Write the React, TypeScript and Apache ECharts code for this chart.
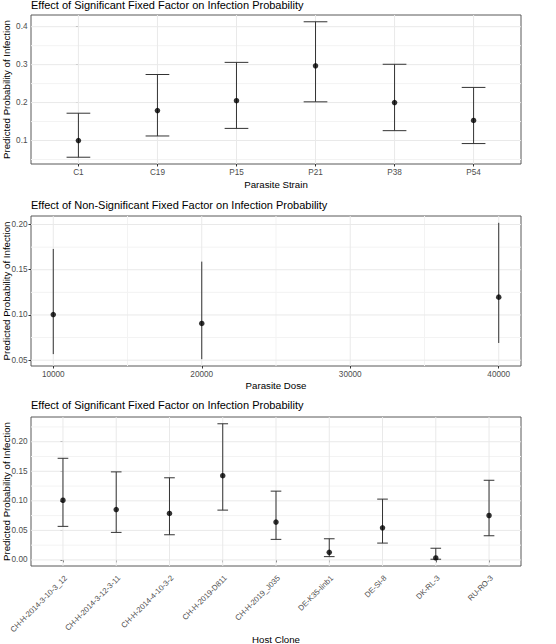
import React, { useEffect, useRef } from "react";
import * as echarts from "echarts";

// ---------- Panel 1: Parasite Strain ----------
const strainCategories = ["C1", "C19", "P15", "P21", "P38", "P54"];
const strainFit = [0.1, 0.179, 0.205, 0.297, 0.2, 0.153];
const strainLower = [0.056, 0.112, 0.132, 0.202, 0.126, 0.092];
const strainUpper = [0.172, 0.274, 0.306, 0.413, 0.301, 0.24];
const strainYTicks = [0.1, 0.2, 0.3, 0.4];
const strainYMinor = [0.05, 0.15, 0.25, 0.35];

// ---------- Panel 2: Parasite Dose ----------
const doseValues = [10000, 20000, 40000];
const doseFit = [0.1005, 0.0906, 0.1197];
const doseLower = [0.0567, 0.0511, 0.069];
const doseUpper = [0.173, 0.159, 0.2019];
const doseXTicks = [10000, 20000, 30000, 40000];
const doseXMinor = [15000, 25000, 35000];
const doseYTicks = [0.05, 0.1, 0.15, 0.2];
const doseYMinor = [0.075, 0.125, 0.175];

// ---------- Panel 3: Host Clone ----------
const cloneCategories = [
  "CH-H-2014-3-10-3_12",
  "CH-H-2014-3-12-3-11",
  "CH-H-2014-4-10-3-2",
  "CH-H-2019-D811",
  "CH-H-2019_J035",
  "DE-K35-Iinb1",
  "DE-SI-8",
  "DK-RL-3",
  "RU-RO-3",
];
const cloneFit = [0.101, 0.0853, 0.0786, 0.1426, 0.064, 0.0128, 0.0544, 0.0034, 0.0752];
const cloneLower = [0.0568, 0.0466, 0.0426, 0.0843, 0.0348, 0.0056, 0.0285, 0.0012, 0.0409];
const cloneUpper = [0.172, 0.149, 0.139, 0.2304, 0.1164, 0.0358, 0.1029, 0.0198, 0.1348];
const cloneYTicks = [0, 0.05, 0.1, 0.15, 0.2];
const cloneYMinor = [0.025, 0.075, 0.125, 0.175, 0.225];

const titles = [
  "Effect of Significant Fixed Factor on Infection Probability",
  "Effect of Non-Significant Fixed Factor on Infection Probability",
  "Effect of Significant Fixed Factor on Infection Probability",
];
const xTitles = ["Parasite Strain", "Parasite Dose", "Host Clone"];
const yTitle = "Predicted Probability of Infection";

const FONT = "'Liberation Sans', Arial, sans-serif";
const TICK_COLOR = "#4d4d4d";
const MAJOR = "#e9e9e9";
const MINOR = "#f3f3f3";

function expand(lo: number[], hi: number[]) {
  const a = Math.min(...lo);
  const b = Math.max(...hi);
  const r = b - a;
  return [a - 0.05 * r, b + 0.05 * r];
}

function idx(n: number) {
  return Array.from({ length: n }, (_, i) => i);
}

function gridLines(g: number, vertical: boolean, values: number[], ref: number, color: string, width: number) {
  return {
    type: "custom",
    xAxisIndex: g,
    yAxisIndex: g,
    silent: true,
    z: 1,
    data: values.map((v) => (vertical ? [v, ref] : [ref, v])),
    renderItem: (params: any, api: any) => {
      const cs = params.coordSys;
      const p = api.coord([api.value(0), api.value(1)]);
      const shape = vertical
        ? { x1: p[0], y1: cs.y, x2: p[0], y2: cs.y + cs.height }
        : { x1: cs.x, y1: p[1], x2: cs.x + cs.width, y2: p[1] };
      return { type: "line", shape, style: { stroke: color, lineWidth: width } };
    },
  };
}

function errorBars(g: number, xs: number[], lo: number[], hi: number[], capHalf: number) {
  return {
    type: "custom",
    xAxisIndex: g,
    yAxisIndex: g,
    silent: true,
    z: 3,
    data: xs.map((x, i) => [x, lo[i], hi[i]]),
    encode: { x: 0, y: [1, 2] },
    renderItem: (params: any, api: any) => {
      const x = api.value(0);
      const a = api.coord([x, api.value(1)]);
      const b = api.coord([x, api.value(2)]);
      const style = { stroke: "#333333", lineWidth: 1 };
      const children: any[] = [
        { type: "line", shape: { x1: a[0], y1: a[1], x2: b[0], y2: b[1] }, style },
      ];
      if (capHalf > 0) {
        const h = api.size([1, 0])[0] * capHalf;
        children.push({ type: "line", shape: { x1: a[0] - h, y1: a[1], x2: a[0] + h, y2: a[1] }, style });
        children.push({ type: "line", shape: { x1: b[0] - h, y1: b[1], x2: b[0] + h, y2: b[1] }, style });
      }
      return { type: "group", children };
    },
  };
}

function points(g: number, xs: number[], ys: number[]) {
  return {
    type: "scatter",
    xAxisIndex: g,
    yAxisIndex: g,
    symbol: "circle",
    symbolSize: 5.5,
    itemStyle: { color: "#000000" },
    z: 4,
    data: xs.map((x, i) => [x, ys[i]]),
  };
}

function xAxisCfg(
  g: number,
  min: number,
  max: number,
  ticks: number[],
  fmt: (v: number) => string,
  name: string,
  nameGap: number,
  rotated = false
) {
  const label: any = {
    customValues: ticks,
    formatter: (v: number) => fmt(v),
    color: TICK_COLOR,
    fontSize: 8.2,
    fontFamily: FONT,
    margin: 4,
  };
  if (rotated) {
    label.rotate = 45;
    label.fontSize = 7.7;
    label.margin = 8;
    label.align = "right";
    label.verticalAlign = "top";
  }
  return {
    type: "value",
    gridIndex: g,
    min,
    max,
    axisLine: { show: false },
    axisTick: { show: true, customValues: ticks, length: 2.5, lineStyle: { color: "#333333", width: 1 } },
    axisLabel: label,
    splitLine: { show: false },
    name,
    nameLocation: "middle",
    nameGap,
    nameMoveOverlap: false,
    nameTextStyle: { color: "#000000", fontSize: 9.7, fontFamily: FONT },
  };
}

function yAxisCfg(g: number, range: number[], ticks: number[], digits: number) {
  return {
    type: "value",
    gridIndex: g,
    min: range[0],
    max: range[1],
    axisLine: { show: false },
    axisTick: { show: true, customValues: ticks, length: 2.5, lineStyle: { color: "#333333", width: 1 } },
    axisLabel: {
      customValues: ticks,
      formatter: (v: number) => v.toFixed(digits),
      color: TICK_COLOR,
      fontSize: 8.2,
      fontFamily: FONT,
      margin: 3.5,
    },
    splitLine: { show: false },
    name: yTitle,
    nameLocation: "middle",
    nameGap: 20,
    nameMoveOverlap: false,
    nameRotate: 90,
    nameTextStyle: { color: "#000000", fontSize: 9.7, fontFamily: FONT },
  };
}

export default function App() {
  const ref = useRef<HTMLDivElement>(null);

  useEffect(() => {
    if (!ref.current) return;
    const chart = echarts.init(ref.current, undefined, { renderer: "svg" });

    const sIdx = idx(strainCategories.length);
    const cIdx = idx(cloneCategories.length);
    const yr1 = expand(strainLower, strainUpper);
    const yr2 = expand(doseLower, doseUpper);
    const yr3 = expand(cloneLower, cloneUpper);
    const xr2 = expand(doseValues, doseValues);

    const gridBase = {
      show: true,
      left: 31,
      right: 35,
      containLabel: false,
      outerBoundsMode: "none",
      borderColor: "#595959",
      borderWidth: 1,
      backgroundColor: "#ffffff",
    };

    chart.setOption({
      animation: false,
      textStyle: { fontFamily: FONT },
      title: titles.map((t, i) => ({
        text: t,
        left: 31,
        top: [-1, 199, 399][i],
        padding: 0,
        textStyle: { fontSize: 11, fontWeight: "normal", color: "#000000", fontFamily: FONT },
      })),
      grid: [
        { ...gridBase, top: 15, height: 149 },
        { ...gridBase, top: 216, height: 150 },
        { ...gridBase, top: 417, height: 149 },
      ],
      xAxis: [
        xAxisCfg(0, -0.6, strainCategories.length - 0.4, sIdx, (v) => strainCategories[Math.round(v)] ?? "", xTitles[0], 15),
        xAxisCfg(1, xr2[0], xr2[1], doseXTicks, (v) => String(v), xTitles[1], 14.5),
        xAxisCfg(2, -0.6, cloneCategories.length - 0.4, cIdx, (v) => cloneCategories[Math.round(v)] ?? "", xTitles[2], 68, true),
      ],
      yAxis: [yAxisCfg(0, yr1, strainYTicks, 1), yAxisCfg(1, yr2, doseYTicks, 2), yAxisCfg(2, yr3, cloneYTicks, 2)],
      series: [
        // panel 1
        gridLines(0, false, strainYMinor, 0, MINOR, 1),
        gridLines(0, false, strainYTicks, 0, MAJOR, 1),
        gridLines(0, true, sIdx, 0.2, MAJOR, 1),
        errorBars(0, sIdx, strainLower, strainUpper, 0.15),
        points(0, sIdx, strainFit),
        // panel 2
        gridLines(1, false, doseYMinor, 20000, MINOR, 1),
        gridLines(1, true, doseXMinor, 0.1, MINOR, 1),
        gridLines(1, false, doseYTicks, 20000, MAJOR, 1),
        gridLines(1, true, doseXTicks, 0.1, MAJOR, 1),
        errorBars(1, doseValues, doseLower, doseUpper, 0),
        points(1, doseValues, doseFit),
        // panel 3
        gridLines(2, false, cloneYMinor, 0, MINOR, 1),
        gridLines(2, false, cloneYTicks, 0, MAJOR, 1),
        gridLines(2, true, cIdx, 0.1, MAJOR, 1),
        errorBars(2, cIdx, cloneLower, cloneUpper, 0.1),
        points(2, cIdx, cloneFit),
      ],
    });

    return () => chart.dispose();
  }, []);

  return (
    <div
      ref={ref}
      style={{ position: "fixed", left: 0, top: 0, width: 556, height: 644, background: "#ffffff" }}
    />
  );
}
